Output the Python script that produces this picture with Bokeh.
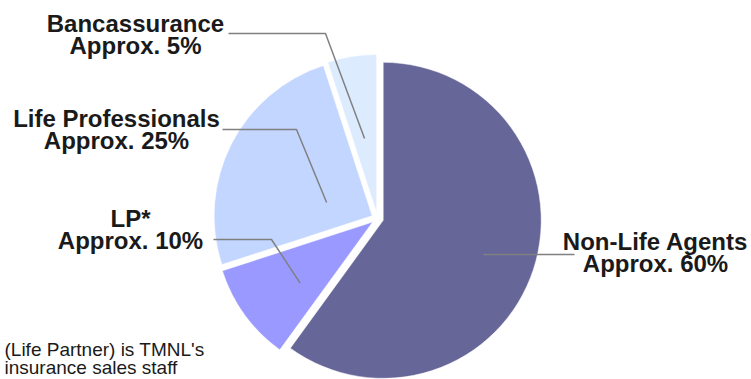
import math
from bokeh.plotting import figure
from bokeh.models import Range1d, ColumnDataSource
from bokeh.core.properties import value
from bokeh.embed import file_html
from bokeh.resources import INLINE

# ---- data ----
categories = ["Non-Life Agents", "LP*", "Life Professionals", "Bancassurance"]
shares = [60, 10, 25, 5]
label_line1 = ["Non-Life Agents", "LP*", "Life Professionals", "Bancassurance"]
label_line2 = ["Approx. 60%", "Approx. 10%", "Approx. 25%", "Approx. 5%"]
colors = ["#666699", "#9999FF", "#C3D6FF", "#DDEBFF"]
footnote = ["(Life Partner) is TMNL's", "insurance sales staff"]

# ---- layout (pixels, image coords: y down) ----
W, H = 751, 379
CX, CY_IMG, R, EXPLODE = 377.0, 218.0, 158.0, 6.0
# leader anchor inside each slice: angle (deg) and fraction of radius from slice apex
anchor_ang = [-18.8, 220.1, 163.8, 99.2]
anchor_frac = [0.67, 0.60, 0.30, 0.475]
# elbow (x, y img) ; None = straight line
elbow = [None, (271, 239), (296, 129), (325, 33)]
line_end_x = [574, 213, 222, 228]
label_cx = [655, 130, 116, 135]
label_base1 = [241, 218, 118, 23]
LINE_GAP = 22
foot_x = [4, 4]
foot_base = [349, 367]

def fy(y_img):
    return H - y_img

p = figure(width=W, height=H, x_range=Range1d(0, W), y_range=Range1d(0, H),
           output_backend="svg", toolbar_location=None, min_border=0)
p.axis.visible = False
p.grid.visible = False
p.outline_line_color = None
p.background_fill_color = "white"
p.border_fill_color = "white"

total = float(sum(shares))
cum = 0.0
xs, ys, sa, ea, apex = [], [], [], [], []
for s in shares:
    a0 = 90.0 - 360.0 * cum / total
    cum += s
    a1 = 90.0 - 360.0 * cum / total
    mid = math.radians((a0 + a1) / 2.0)
    ax = CX + EXPLODE * math.cos(mid)
    ay = fy(CY_IMG) + EXPLODE * math.sin(mid)
    xs.append(ax); ys.append(ay)
    sa.append(math.radians(a0)); ea.append(math.radians(a1))
    apex.append((ax, ay))

src = ColumnDataSource(dict(x=xs, y=ys, sa=sa, ea=ea, color=colors, cat=categories))
p.wedge(x="x", y="y", radius=R, start_angle="sa", end_angle="ea", direction="clock",
        fill_color="color", line_color="white", line_width=0.5, source=src)

# leader lines
for i in range(len(shares)):
    ax, ay = apex[i]
    ang = math.radians(anchor_ang[i])
    px = ax + anchor_frac[i] * R * math.cos(ang)
    py = ay + anchor_frac[i] * R * math.sin(ang)
    if elbow[i] is None:
        lx = [px, line_end_x[i]]
        ly = [py, py]
    else:
        ex, ey = elbow[i]
        lx = [px, ex, line_end_x[i]]
        ly = [py, fy(ey), fy(ey)]
    p.line(lx, ly, line_color="#808080", line_width=1.5)

# labels
p.text(x=label_cx, y=[fy(b) for b in label_base1], text=label_line1,
       text_font=value("Liberation Sans"), text_font_style="bold",
       text_font_size="24px", text_color="#1a1a1a",
       text_align="center", text_baseline="alphabetic")
p.text(x=label_cx, y=[fy(b + LINE_GAP) for b in label_base1], text=label_line2,
       text_font=value("Liberation Sans"), text_font_style="bold",
       text_font_size="24px", text_color="#1a1a1a",
       text_align="center", text_baseline="alphabetic")

# footnote
p.text(x=foot_x, y=[fy(b) for b in foot_base], text=footnote,
       text_font=value("Liberation Sans"), text_font_size="19px", text_color="#1a1a1a",
       text_align="left", text_baseline="alphabetic")

open("out.html", "w").write(file_html(p, INLINE))
